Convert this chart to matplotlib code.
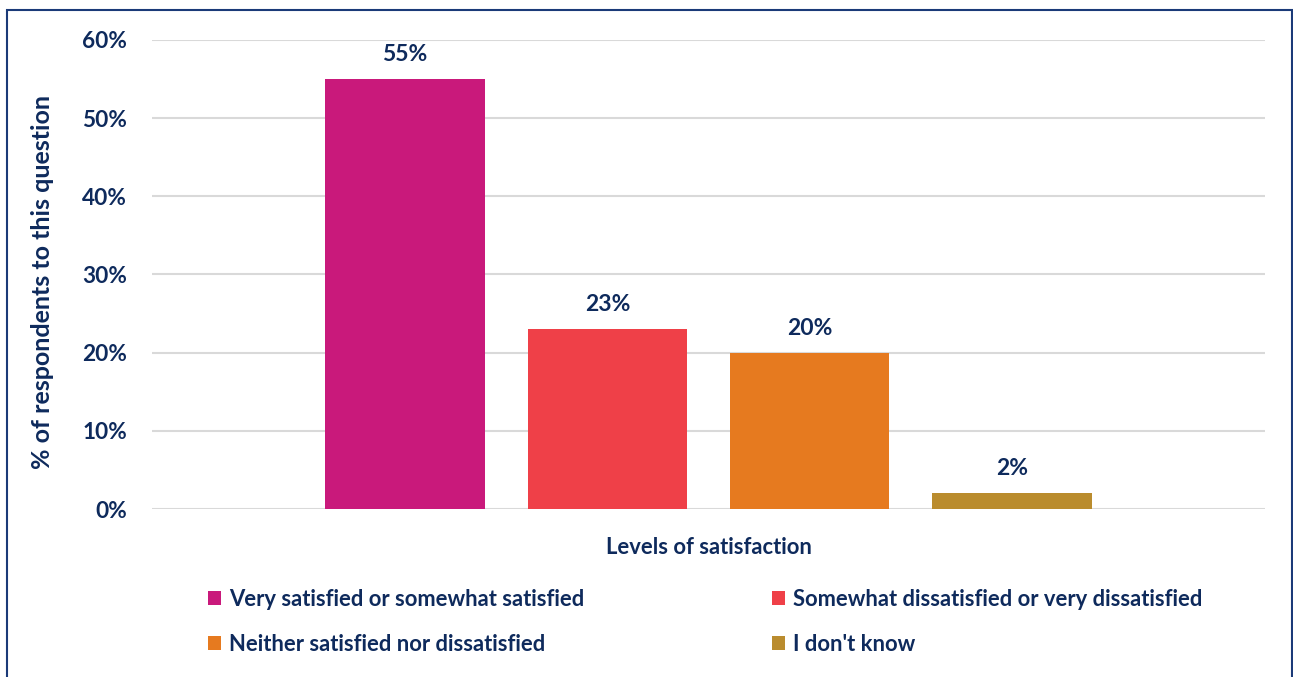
import matplotlib
matplotlib.use("Agg")
import matplotlib.pyplot as plt
from matplotlib.patches import Rectangle, Patch

categories = ["Very satisfied or somewhat satisfied",
              "Somewhat dissatisfied or very dissatisfied",
              "Neither satisfied nor dissatisfied",
              "I don't know"]
values = [0.55, 0.23, 0.20, 0.02]
labels = ["55%", "23%", "20%", "2%"]
colors = ["#C9197B", "#EF4048", "#E67A1F", "#BA8C2E"]
yticks = [0, 0.1, 0.2, 0.3, 0.4, 0.5, 0.6]
yticklabels = ["0%", "10%", "20%", "30%", "40%", "50%", "60%"]

navy = "#0E2A5C"
W = "bold"
plt.rcParams['font.family'] = ['Lato', 'DejaVu Sans']

fig = plt.figure(figsize=(12.93, 6.77), dpi=100)
ax = fig.add_axes([152/1293, 1-509/677, (1265-152)/1293, (509-40)/677])

x = list(range(len(values)))
ax.bar(x, values, width=0.787, color=colors, zorder=3)
for xi, v, lab in zip(x, values, labels):
    ax.annotate(lab, (xi, v), xytext=(0, 10), textcoords="offset points",
                ha="center", va="bottom", fontsize=16.5, color=navy, fontweight=W)

ax.set_xlim(-1.25, 4.25)
ax.set_ylim(0, 0.6)
ax.set_yticks(yticks)
ax.set_yticklabels(yticklabels, fontsize=16.3, color=navy, fontweight=W)
ax.set_xticks([])
ax.tick_params(axis="y", length=0, pad=18)
ax.grid(axis="y", color="#D9D9D9", linewidth=1.5, zorder=0)
for s in ax.spines.values():
    s.set_visible(False)

ax.set_ylabel("% of respondents to this question", fontsize=18, color=navy,
              fontweight=W, labelpad=20)
ax.yaxis.label.set_y(0.484)
ax.set_xlabel("Levels of satisfaction", fontsize=15.8, color=navy,
              fontweight=W, labelpad=20)

order = [0, 2, 1, 3]
handles = [Patch(facecolor=colors[i], label=categories[i]) for i in order]
leg = fig.legend(handles=handles, ncol=2, loc="upper left",
                 bbox_to_anchor=(190/1293, 1-571/677), frameon=False,
                 fontsize=15.8, handlelength=0.62, handleheight=0.62,
                 handletextpad=0.35, columnspacing=8.55, labelspacing=1.1,
                 borderpad=0.3)
for t in leg.get_texts():
    t.set_color(navy)
    t.set_fontweight(W)

fig.patches.append(Rectangle((7/1293, -0.05), (1292-7)/1293, 1.05-10/677,
                             transform=fig.transFigure, fill=False,
                             edgecolor="#1B3A78", linewidth=1.5))

fig.savefig("out.png", dpi=100)
